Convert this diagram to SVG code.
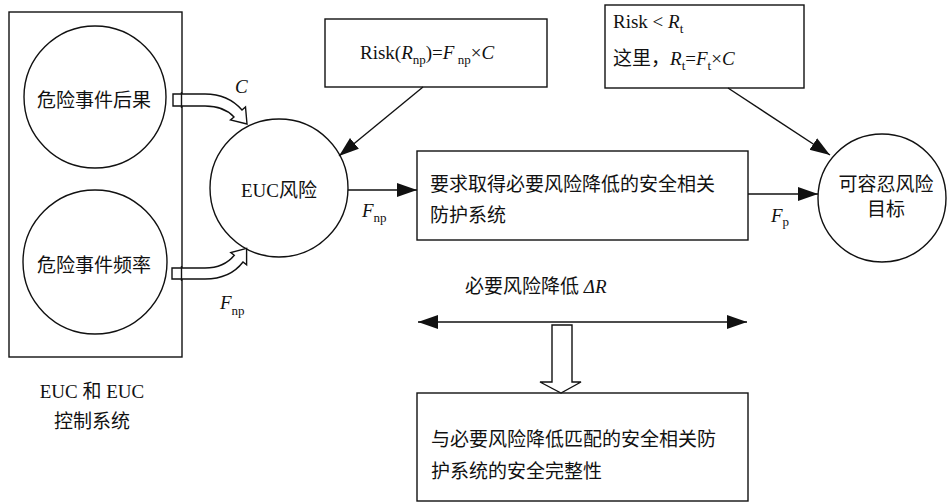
<svg xmlns="http://www.w3.org/2000/svg" width="947" height="504" viewBox="0 0 947 504">
<style>
.ln{fill:none;stroke:#111;stroke-width:1.4}
.sh{fill:#fff;stroke:#111;stroke-width:1.4}
text{font-family:"Liberation Serif","Noto Sans CJK SC",serif;font-size:19px;fill:#111}
.cn{font-family:"Noto Sans CJK SC","Liberation Serif",sans-serif;font-size:19px}
.it{font-style:italic}
.sub{font-size:13px}
</style>
<defs>
<marker id="ah" markerUnits="userSpaceOnUse" markerWidth="22" markerHeight="16" refX="20" refY="7" orient="auto-start-reverse" viewBox="0 0 22 14">
<path d="M0,0 L20,7 L0,14 Z" fill="#111"/>
</marker>
</defs>
<rect width="947" height="504" fill="#fff"/>

<g id="euc-system">
<rect class="ln" x="9" y="12" width="173" height="345"/>
<text x="92" y="398" text-anchor="middle">EUC <tspan class="cn">和</tspan> EUC</text>
<text class="cn" x="92" y="428" text-anchor="middle">控制系统</text>
</g>
<g id="consequence">
<circle class="ln" cx="95" cy="97" r="71"/>
<text class="cn" x="94" y="107" text-anchor="middle">危险事件后果</text>
</g>
<g id="frequency">
<circle class="ln" cx="95" cy="262" r="72"/>
<text class="cn" x="94" y="272" text-anchor="middle">危险事件频率</text>
</g>
<g id="euc-risk">
<circle class="ln" cx="279" cy="188" r="69"/>
<text x="279" y="197" text-anchor="middle">EUC<tspan class="cn">风险</tspan></text>
</g>
<g id="formula">
<rect class="ln" x="325" y="19" width="222" height="68"/>
<text x="360" y="59" font-size="21">Risk(<tspan class="it">R</tspan><tspan class="sub" dy="5">np</tspan><tspan dy="-5">)=</tspan><tspan class="it">F</tspan><tspan class="sub" dy="5"> np</tspan><tspan dy="-5">×</tspan><tspan class="it">C</tspan></text>
</g>
<g id="tolerable-def">
<rect class="ln" x="605" y="5" width="199" height="83"/>
<text x="613" y="28" font-size="20">Risk &lt; <tspan class="it">R</tspan><tspan class="sub" dy="5">t</tspan></text>
<text x="613" y="65" font-size="20"><tspan class="cn">这里，</tspan><tspan class="it">R</tspan><tspan class="sub" dy="5">t</tspan><tspan dy="-5">=</tspan><tspan class="it">F</tspan><tspan class="sub" dy="5">t</tspan><tspan dy="-5">×</tspan><tspan class="it">C</tspan></text>
</g>
<g id="protection">
<rect class="ln" x="417" y="151" width="331" height="89"/>
<text class="cn" x="430" y="191" font-size="20">要求取得必要风险降低的安全相关</text>
<text class="cn" x="430" y="222" font-size="20">防护系统</text>
</g>
<g id="tolerable-target">
<circle class="ln" cx="882" cy="198" r="64"/>
<text class="cn" x="886" y="191" text-anchor="middle">可容忍风险</text>
<text class="cn" x="886" y="216" text-anchor="middle">目标</text>
</g>
<g id="integrity">
<rect class="ln" x="417" y="393" width="331" height="108"/>
<text class="cn" x="431" y="446" font-size="20">与必要风险降低匹配的安全相关防</text>
<text class="cn" x="431" y="478" font-size="20">护系统的安全完整性</text>
</g>

<g id="connectors">
<path class="sh" d="M173,94 L205,94 Q228,94 242,110 L245.5,107 L247,124 L230.5,120 L234,117 Q224,106 205,106 L173,106 Z"/>
<path class="sh" d="M172,279 L205,279 Q230,279 243,262 L246.6,264.8 L246.6,248.4 L230.8,252.6 L234.3,255.3 Q224,268 205,268 L172,268 Z"/>
<line x1="181.5" y1="92" x2="181.5" y2="108" class="ln"/>
<line x1="181.5" y1="266" x2="181.5" y2="281" class="ln"/>
<text x="235" y="93" class="it">C</text>
<text x="220" y="309" class="it" font-size="20">F<tspan class="sub" dy="6" font-style="normal">np</tspan></text>
<line class="ln" x1="423" y1="87" x2="339" y2="156" marker-end="url(#ah)"/>
<line class="ln" x1="728" y1="88" x2="830" y2="155" marker-end="url(#ah)"/>
<line class="ln" x1="348" y1="190" x2="417" y2="190" marker-end="url(#ah)"/>
<text x="362" y="217" class="it" font-size="20">F<tspan class="sub" dy="5" font-style="normal">np</tspan></text>
<line class="ln" x1="748" y1="194" x2="818" y2="194" marker-end="url(#ah)"/>
<text x="771" y="222" class="it" font-size="20">F<tspan class="sub" dy="4" font-style="normal">p</tspan></text>
<text x="465" y="293"><tspan class="cn">必要风险降低</tspan> <tspan class="it">ΔR</tspan></text>
<line class="ln" x1="418" y1="322" x2="747" y2="322" marker-start="url(#ah)" marker-end="url(#ah)"/>
<path class="sh" d="M552,325 L572,325 L572,382 L581,382 L561,393 L540,382 L552,382 Z"/>
</g>
</svg>
